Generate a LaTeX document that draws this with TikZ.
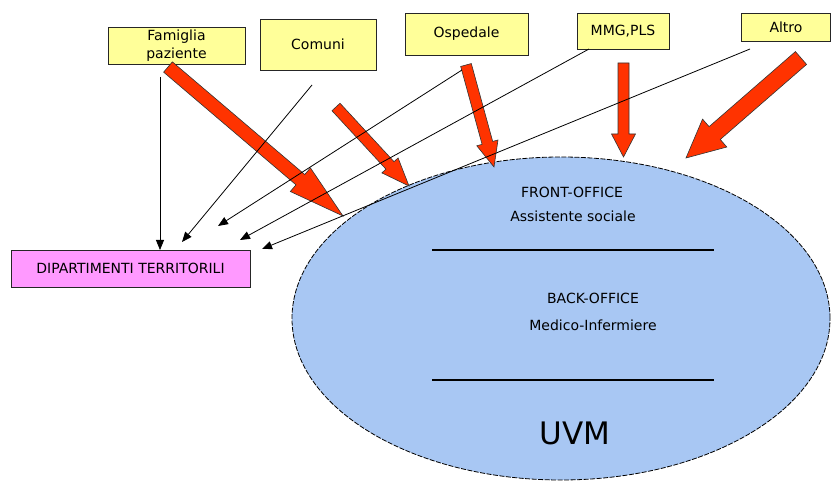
\documentclass[tikz,border=0pt]{standalone}
\usepackage{fontspec}
\setmainfont{DejaVu Sans}
\usetikzlibrary{shapes.geometric,arrows.meta,calc}

\definecolor{boxyellow}{HTML}{FFFF99}
\definecolor{boxpink}{HTML}{FF99FF}
\definecolor{uvmblue}{HTML}{A8C7F3}
\definecolor{arrowred}{HTML}{FF3300}

% block arrow: tail, tip, half shaft width, half head width, head length
\newcommand{\bigarrow}[5]{%
  \coordinate (ba-h) at ($(#2)!#5!(#1)$);
  \draw[redarrow] ($(#1)!#3!90:(#2)$) -- ($(ba-h)!#3!-90:(#1)$) -- ($(ba-h)!#4!-90:(#1)$)
    -- (#2) -- ($(ba-h)!#4!90:(#1)$) -- ($(ba-h)!#3!90:(#1)$) -- ($(#1)!#3!-90:(#2)$) -- cycle;}

\begin{document}
\begin{tikzpicture}[
    x=1pt, y=-1pt,
    source/.style={rectangle, draw=black!85, line width=0.9pt, fill=boxyellow, inner sep=0pt, align=center,
      font=\fontsize{14}{18.5}\selectfont},
    target/.style={source, fill=boxpink},
    uvmshape/.style={ellipse, draw, fill=uvmblue, inner sep=0pt, line width=0.8pt, dash pattern=on 5pt off 1.5pt},
    label/.style={anchor=base, font=\fontsize{14}{17}\selectfont},
    redarrow/.style={draw=black!80, fill=arrowred, line width=0.6pt, line join=miter},
    arrow/.style={-{Triangle[length=10pt, width=8pt]}, line width=0.8pt}
]
    \useasboundingbox (0,0) rectangle (831,481);

    % UVM ellipse
    \node[uvmshape, minimum width=538pt, minimum height=323pt] (uvm) at (561,318.5) {};
    \draw[line width=1.3pt] (432,250) -- (714,250);
    \draw[line width=1.3pt] (432,380) -- (714,380);
    \node[label] (front) at (572,198) {FRONT-OFFICE};
    \node[label] (assist) at (573,222) {Assistente sociale};
    \node[label] (back) at (593,304) {BACK-OFFICE};
    \node[label] (medico) at (593,331) {Medico-Infermiere};
    \node[label, font=\fontsize{31}{36}\selectfont] (uvmtext) at (575,444) {UVM};

    % Sources
    \node[source, minimum width=137pt, minimum height=37pt] (fam) at (176.5,45.5) {Famiglia\\paziente};
    \node[source, minimum width=116pt, minimum height=51pt] (com) at (318,44.5) {Comuni};
    \node[source, minimum width=123pt, minimum height=42pt] (osp) at (466.5,34) {Ospedale};
    \node[source, minimum width=92pt, minimum height=36pt] (mmg) at (623,31) {MMG,PLS};
    \node[source, minimum width=89pt, minimum height=28pt] (alt) at (786,27) {Altro};

    % Target
    \node[target, minimum width=239pt, minimum height=37pt] (dip) at (130.5,268.5) {DIPARTIMENTI TERRITORILI};

    % Red arrows towards UVM
    \coordinate (famtail) at (168,67);  \coordinate (famtip) at (343,216);
    \coordinate (comtail) at (336,107); \coordinate (comtip) at (409,186);
    \coordinate (osptail) at (466,65);  \coordinate (osptip) at (494,167);
    \coordinate (mmgtail) at (623.5,63); \coordinate (mmgtip) at (623.5,157);
    \coordinate (alttail) at (801,58);  \coordinate (alttip) at (686,158);
    \bigarrow{famtail}{famtip}{6.75pt}{15.5pt}{56pt}
    \bigarrow{comtail}{comtip}{5.5pt}{11pt}{28pt}
    \bigarrow{osptail}{osptip}{5.5pt}{11pt}{25pt}
    \bigarrow{mmgtail}{mmgtip}{5.5pt}{12pt}{23pt}
    \bigarrow{alttail}{alttip}{8.5pt}{18.5pt}{38pt}

    % Thin arrows towards the departments
    \coordinate (famout) at (160,77);  \coordinate (famin) at (160,250);
    \coordinate (comout) at (312,85);  \coordinate (comin) at (182,242);
    \coordinate (ospout) at (462,70);  \coordinate (ospin) at (218,226);
    \coordinate (mmgout) at (589,49);  \coordinate (mmgin) at (240,240);
    \coordinate (altout) at (750,49);  \coordinate (altin) at (262,249);
    \draw[arrow] (famout) -- (famin);
    \draw[arrow] (comout) -- (comin);
    \draw[arrow] (ospout) -- (ospin);
    \draw[arrow] (mmgout) -- (mmgin);
    \draw[arrow] (altout) -- (altin);
\end{tikzpicture}
\end{document}
